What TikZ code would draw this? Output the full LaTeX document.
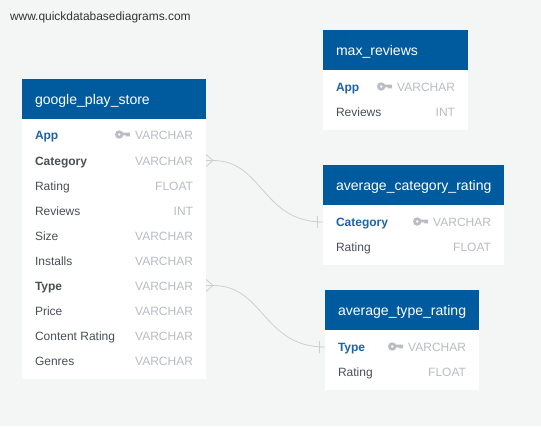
\documentclass[tikz,border=0pt]{standalone}
\usepackage{fontspec}
\setmainfont{Liberation Sans}
\definecolor{bgc}{HTML}{F4F6F6}
\definecolor{headc}{HTML}{005A9E}
\definecolor{pkc}{HTML}{1E64A4}
\definecolor{namec}{HTML}{4A4F55}
\definecolor{typec}{HTML}{B9BCC2}
\definecolor{linec}{HTML}{CDD0D0}
\tikzset{
  x=1pt,y=-1pt,
  every node/.style={inner sep=0pt,outer sep=0pt},
  headbox/.style={fill=headc,anchor=north west,minimum height=40pt},
  bodybox/.style={fill=white,anchor=north west},
  headtext/.style={anchor=base west,text=white,font=\fontsize{14.05}{16}\selectfont},
  rowname/.style={anchor=base west,text=namec,font=\fontsize{12}{14}\selectfont},
  fkname/.style={rowname,font=\fontsize{12}{14}\selectfont\bfseries},
  pkname/.style={rowname,text=pkc,font=\fontsize{12}{14}\selectfont\bfseries},
  rowtype/.style={anchor=base east,text=typec,font=\fontsize{12}{14}\selectfont},
  rel/.style={draw=linec,line width=0.8pt},
  keyshape/.style={fill=typec,draw=none,even odd rule},
}
\newcommand{\keyicon}[2]{%
  \fill[keyshape] (#1+4.2,#2) circle (4.2) (#1+4.2,#2) circle (1.6);
  \fill[keyshape] (#1+7,#2-2) -- (#1+15,#2-2) -- (#1+15,#2+0.8) -- (#1+14,#2+2.4) -- (#1+13,#2+1) -- (#1+12,#2+2.4) -- (#1+11,#2+0.8) -- (#1+7,#2+0.8) -- cycle;
}
\begin{document}
\begin{tikzpicture}
\useasboundingbox[fill=bgc] (0,0) rectangle (541,426);
\node[anchor=base west,text=black!80,font=\fontsize{11.95}{14}\selectfont] (site) at (10,20) {www.quickdatabasediagrams.com};

% google_play_store
\node[bodybox,minimum width=184pt,minimum height=260pt] (gpsbody) at (22,119) {};
\node[headbox,minimum width=184pt] (gpshead) at (22,79) {};
\node[headtext] (gpstitle) at (35,104) {google\_play\_store};
\node[pkname] (gpsA) at (35,139.5) {App};
\node[rowtype] (gpsAt) at (193,139.5) {VARCHAR};
\keyicon{115}{134.5}
\node[fkname] (gpsB) at (35,165) {Category};
\node[rowtype] (gpsBt) at (193,165) {VARCHAR};
\node[rowname] (gpsC) at (35,190) {Rating};
\node[rowtype] (gpsCt) at (193,190) {FLOAT};
\node[rowname] (gpsD) at (35,215) {Reviews};
\node[rowtype] (gpsDt) at (193,215) {INT};
\node[rowname] (gpsE) at (35,240) {Size};
\node[rowtype] (gpsEt) at (193,240) {VARCHAR};
\node[rowname] (gpsF) at (35,265) {Installs};
\node[rowtype] (gpsFt) at (193,265) {VARCHAR};
\node[fkname] (gpsG) at (35,290) {Type};
\node[rowtype] (gpsGt) at (193,290) {VARCHAR};
\node[rowname] (gpsH) at (35,315) {Price};
\node[rowtype] (gpsHt) at (193,315) {VARCHAR};
\node[rowname] (gpsI) at (35,340) {Content Rating};
\node[rowtype] (gpsIt) at (193,340) {VARCHAR};
\node[rowname] (gpsJ) at (35,365) {Genres};
\node[rowtype] (gpsJt) at (193,365) {VARCHAR};

% max_reviews
\node[bodybox,minimum width=145pt,minimum height=60pt] (mrbody) at (323,70) {};
\node[headbox,minimum width=145pt] (mrhead) at (323,30) {};
\node[headtext] (mrtitle) at (336,55) {max\_reviews};
\node[pkname] (mrA) at (336,91) {App};
\node[rowtype] (mrAt) at (455,91) {VARCHAR};
\keyicon{377}{86.5}
\node[rowname] (mrB) at (336,116) {Reviews};
\node[rowtype] (mrBt) at (455,116) {INT};

% average_category_rating
\node[bodybox,minimum width=181pt,minimum height=60pt] (acbody) at (323,205) {};
\node[headbox,minimum width=181pt] (achead) at (323,165) {};
\node[headtext] (actitle) at (336,190) {average\_category\_rating};
\node[pkname] (acA) at (336,226) {Category};
\node[rowtype] (acAt) at (491,226) {VARCHAR};
\keyicon{413}{221.5}
\node[rowname] (acB) at (336,251) {Rating};
\node[rowtype] (acBt) at (491,251) {FLOAT};

% average_type_rating
\node[bodybox,minimum width=154pt,minimum height=60pt] (atbody) at (325,330) {};
\node[headbox,minimum width=154pt] (athead) at (325,290) {};
\node[headtext] (attitle) at (338,315) {average\_type\_rating};
\node[pkname] (atA) at (338,351) {Type};
\node[rowtype] (atAt) at (466,351) {VARCHAR};
\keyicon{388}{346.5}
\node[rowname] (atB) at (338,376) {Rating};
\node[rowtype] (atBt) at (466,376) {FLOAT};

% connector end points on the table edges
\coordinate (fromCat) at (206,160.5);
\coordinate (toCat) at (323,222);
\coordinate (fromType) at (206,285.5);
\coordinate (toType) at (325,347);

\draw[rel] (fromCat) -- ++(7,0) .. controls (263,160.5) and (262,222) .. (toCat);
\draw[rel] (fromCat)++(0,-6) -- ++(7,6) -- ++(-7,6);
\draw[rel] (toCat)++(-6,-6) -- ++(0,12);
\draw[rel] (fromType) -- ++(7,0) .. controls (264,285.5) and (263,347) .. (toType);
\draw[rel] (fromType)++(0,-6) -- ++(7,6) -- ++(-7,6);
\draw[rel] (toType)++(-6,-6) -- ++(0,12);
\end{tikzpicture}
\end{document}
